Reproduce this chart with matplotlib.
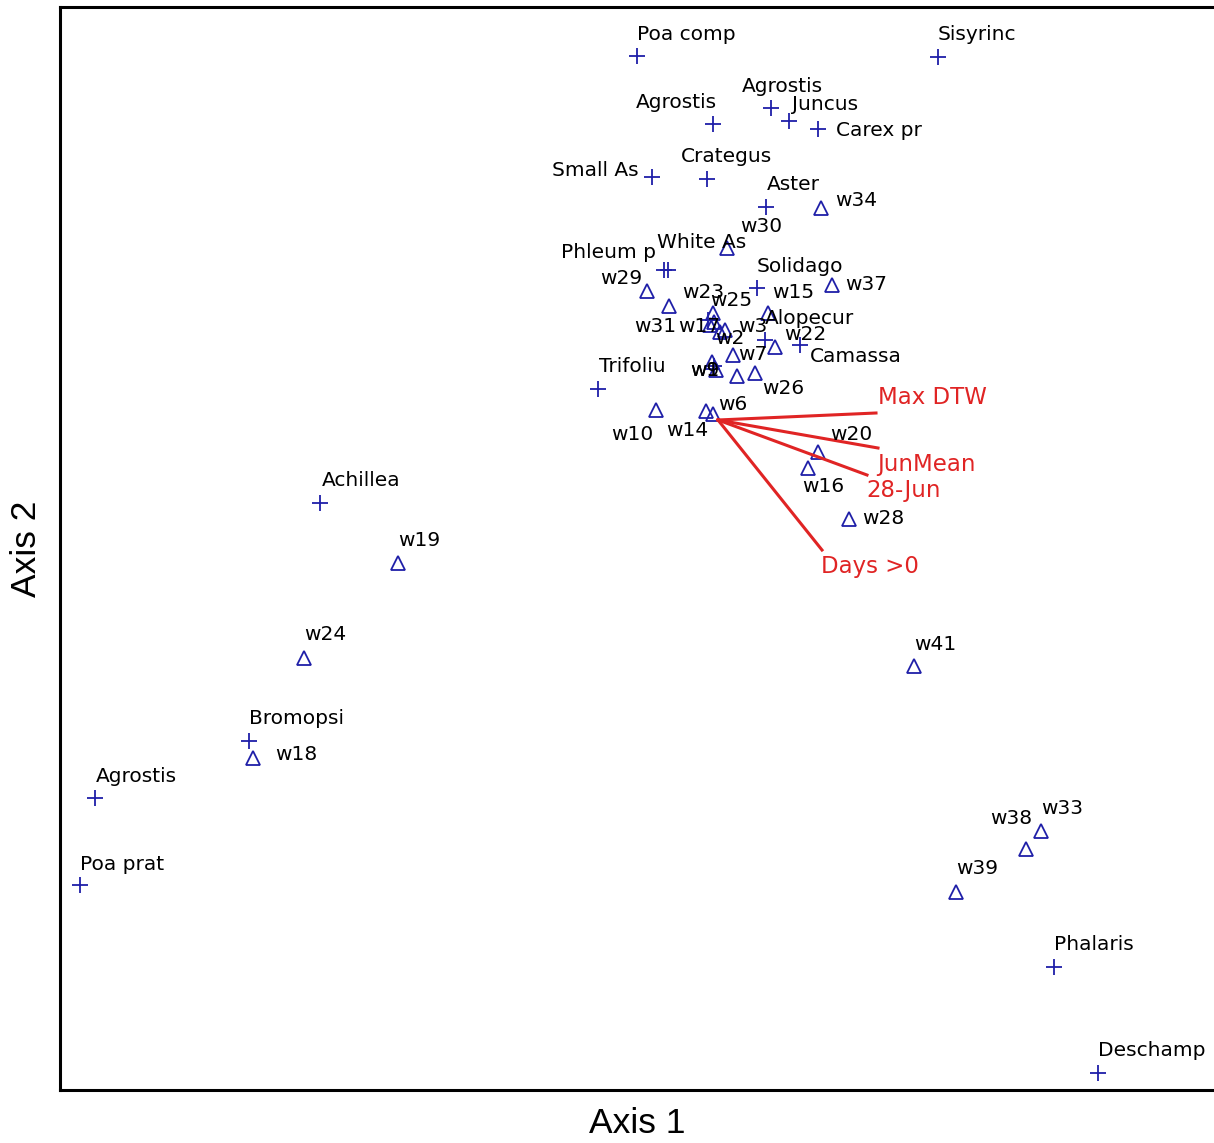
import matplotlib
matplotlib.use("Agg")
from matplotlib import pyplot as plt

# species scores (axis units follow the plot frame)
species = ["Poa comp", "Sisyrinc", "Agrostis", "Juncus", "Carex pr", "Agrostis",
           "Crategus", "Small As", "Aster", "Phleum p", "White As", "Solidago",
           "Alopecur", "Camassa", "Trifoliu", "Achillea", "Bromopsi", "Agrostis",
           "Poa prat", "Phalaris", "Deschamp", "", ""]
species_x = [637, 938, 771, 789, 818, 713, 707, 652, 766, 664, 668, 757,
             765, 800, 598, 320, 249, 95, 80, 1054, 1098, 708, 714]
species_y = [56, 57, 108, 121, 129, 124, 179, 177, 207, 270, 270, 288,
             340, 345, 389, 503, 741, 798, 885, 967, 1073, 320, 366]

# site scores
sites = ["w34", "w30", "w29", "w23", "w25", "w37", "w31", "w17", "w2", "w3",
         "w15", "w7", "w22", "w9", "w1", "w26", "", "w6", "w14", "w10", "w20",
         "w16", "w28", "w19", "w24", "w18", "w41", "w38", "w33", "w39"]
sites_x = [821, 727, 647, 669, 713, 832, 710, 714, 720, 725,
           768, 733, 775, 712, 716, 755, 737, 713, 706, 656, 818,
           808, 849, 398, 304, 253, 914, 1026, 1041, 956]
sites_y = [208, 248, 291, 306, 313, 285, 325, 322, 332, 330,
           313, 355, 347, 362, 370, 373, 376, 414, 411, 410, 452,
           468, 519, 563, 658, 758, 666, 849, 831, 892]

# environmental vectors (tips), origin at the centroid
vec_origin = (718, 420)
vectors = ["Max DTW", "JunMean", "28-Jun", "Days >0"]
vec_x = [876, 878, 867, 822]
vec_y = [413, 448, 475, 550]

# label offsets in pixels (layout only)
sp_off = [(0, 22), (0, 22), (-29, 21), (3, 16), (18, -1), (-77, 21),
          (-26, 22), (-100, 7), (1, 22), (-103, 17), (-11, 28), (0, 21),
          (0, 22), (10, -11), (1, 22), (2, 22), (0, 22), (1, 22),
          (0, 21), (0, 22), (0, 22), (0, 0), (0, 0)]
site_off = [(14, 8), (13, 22), (-47, 13), (13, 13), (-3, 13), (13, 1),
            (-76, -2), (-36, -5), (-5, -6), (13, 3), (4, 20), (5, 0),
            (9, 12), (-22, -9), (-26, -1), (7, -15), (0, 0), (5, 9),
            (-40, -20), (-45, -24), (12, 17), (-6, -19), (13, 0), (0, 23),
            (0, 23), (22, 4), (0, 22), (-36, 30), (0, 22), (0, 23)]
vec_off = [(2, 15), (-1, -17), (-1, -16), (-1, -16)]

blue = "#1f1fa8"
red = "#e02424"

fig = plt.figure(figsize=(12.14, 11.43), dpi=100)
ax = fig.add_axes([60 / 1214, 53 / 1143, 1 - 60 / 1214, 1083 / 1143])
ax.set_xlim(60, 1214)
ax.set_ylim(1090, 7)
ax.set_xticks([])
ax.set_yticks([])
for side in ["left", "top", "bottom"]:
    ax.spines[side].set_linewidth(2.2)
ax.spines["right"].set_visible(False)

ax.plot(species_x, species_y, "+", color=blue, markersize=11, mew=1.3)
ax.plot(sites_x, sites_y, "^", color=blue, markersize=10, mew=1.3,
        fillstyle="none")

for name, x, y, off in zip(species, species_x, species_y, sp_off):
    if name:
        ax.annotate(name, (x, y), xytext=off, textcoords="offset pixels",
                    ha="left", va="center", fontsize=14.5, color="black")
for name, x, y, off in zip(sites, sites_x, sites_y, site_off):
    if name:
        ax.annotate(name, (x, y), xytext=off, textcoords="offset pixels",
                    ha="left", va="center", fontsize=14.5, color="black")

for name, x, y, off in zip(vectors, vec_x, vec_y, vec_off):
    ax.plot([vec_origin[0], x], [vec_origin[1], y], color=red, lw=2.2)
    ax.annotate(name, (x, y), xytext=off, textcoords="offset pixels",
                ha="left", va="center", fontsize=16.5, color=red)

ax.set_xlabel("Axis 1", fontsize=25.5, family="Liberation Sans", labelpad=12)
ax.set_ylabel("Axis 2", fontsize=25.5, family="Liberation Sans", labelpad=12)

fig.savefig("out.png", dpi=100)
